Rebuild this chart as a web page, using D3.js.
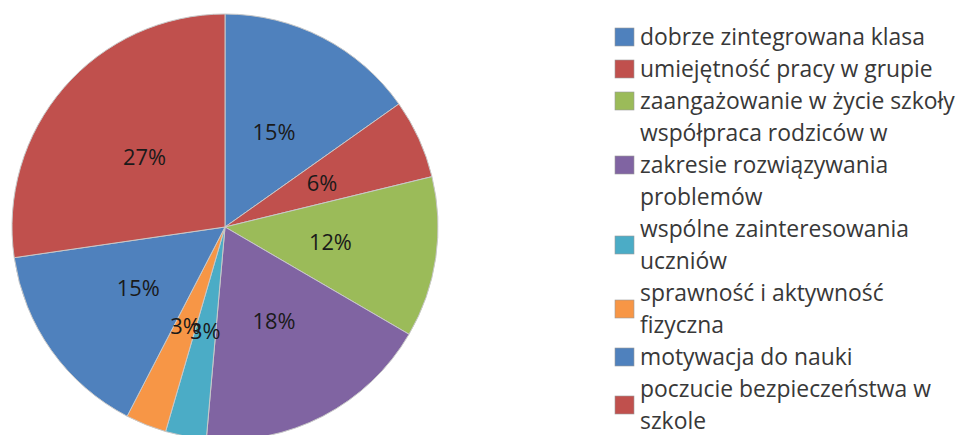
<!DOCTYPE html>
<html><head><meta charset="utf-8">
<script src="https://cdn.jsdelivr.net/npm/d3@7"></script>
<style>body{margin:0;background:#fff}svg{display:block}</style>
</head><body>
<svg id="c" width="963" height="435"></svg>
<script>
const categories = [
  "dobrze zintegrowana klasa",
  "umiejętność pracy w grupie",
  "zaangażowanie w życie szkoły",
  "współpraca rodziców w zakresie rozwiązywania problemów",
  "wspólne zainteresowania uczniów",
  "sprawność i aktywność fizyczna",
  "motywacja do nauki",
  "poczucie bezpieczeństwa w szkole"
];
const legendLines = [
  ["dobrze zintegrowana klasa"],
  ["umiejętność pracy w grupie"],
  ["zaangażowanie w życie szkoły"],
  ["współpraca rodziców w", "zakresie rozwiązywania", "problemów"],
  ["wspólne zainteresowania", "uczniów"],
  ["sprawność i aktywność", "fizyczna"],
  ["motywacja do nauki"],
  ["poczucie bezpieczeństwa w", "szkole"]
];
const values = [15.2, 6.0, 12.2, 18.0, 3.1, 3.1, 15.1, 27.3];
const valueLabels = ["15%", "6%", "12%", "18%", "3%", "3%", "15%", "27%"];
const colors = ["#4F81BD", "#C0504D", "#9BBB59", "#8064A2", "#4BACC6", "#F79646", "#4F81BD", "#C0504D"];

const svg = d3.select("#c");
const cx = 225, cy = 227, R = 213;
const FONT = "'Open Sans', Lato, sans-serif";

const data = values.map((v, i) => ({v, i}));
const pie = d3.pie().value(d => d.v).sort(null);
const arcs = pie(data);
const arc = d3.arc().innerRadius(0).outerRadius(R);
const labelArc = d3.arc().innerRadius(R * 0.5).outerRadius(R * 0.5);

const g = svg.append("g").attr("transform", `translate(${cx},${cy})`);
g.selectAll("path").data(arcs).join("path")
  .attr("d", arc)
  .attr("fill", d => colors[d.data.i])
  .attr("stroke", "#c8c8c8")
  .attr("stroke-width", 1);

// fit font size so the first legend line spans the reference width
const probe = svg.append("text").attr("font-family", FONT).attr("font-size", 20).text(legendLines[0][0]);
const legFs = 20 * 285 / probe.node().getComputedTextLength();
probe.remove();

const probe2 = svg.append("text").attr("font-family", FONT).attr("font-size", 20).text(valueLabels[0]);
const pieFs = 20 * 43 / probe2.node().getComputedTextLength();
probe2.remove();

g.selectAll("text").data(arcs).join("text")
  .attr("transform", d => `translate(${labelArc.centroid(d)})`)
  .attr("text-anchor", "middle")
  .attr("dy", "0.35em")
  .attr("font-family", FONT)
  .attr("font-size", pieFs)
  .attr("fill", "#1a1a1a")
  .text(d => valueLabels[d.data.i]);

// legend
const lx = 615, firstY = 37, step = 32;
const leg = svg.append("g");
let line = 0;
legendLines.forEach((lines, i) => {
  const y0 = firstY + line * step;
  const mid = y0 + (lines.length - 1) * step / 2;
  leg.append("rect")
    .attr("x", lx).attr("y", mid - 9).attr("width", 19).attr("height", 18)
    .attr("fill", colors[i]).attr("stroke", "#9a9a9a").attr("stroke-width", 0.6);
  const t = leg.append("text")
    .attr("font-family", FONT).attr("font-size", legFs).attr("fill", "#383838");
  lines.forEach((s, k) => {
    t.append("tspan").attr("x", lx + 25).attr("y", y0 + k * step).attr("dy", "0.35em").text(s);
  });
  line += lines.length;
});
</script>
</body></html>
